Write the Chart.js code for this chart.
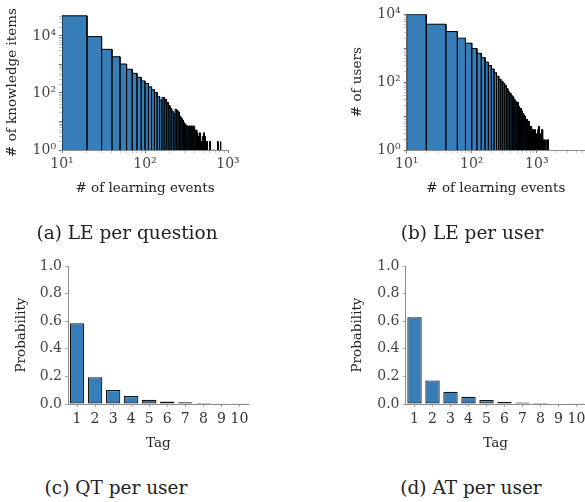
<!DOCTYPE html>
<html><head><meta charset="utf-8">
<script src="https://cdn.jsdelivr.net/npm/chart.js@4.4.0/dist/chart.umd.min.js"></script>
<style>
html,body{margin:0;padding:0;background:#fff;width:585px;height:502px;overflow:hidden;position:relative;}
canvas{position:absolute;}
.cap{position:absolute;font-family:"DejaVu Serif";font-size:18.5px;color:#222;white-space:nowrap;transform:translate(-50%,-50%);line-height:1;}
</style></head><body>
<canvas id="ca"></canvas>
<canvas id="cb"></canvas>
<canvas id="cc"></canvas>
<canvas id="cd"></canvas>
<div class="cap" style="left:127px;top:233px">(a) LE per question</div>
<div class="cap" style="left:472px;top:233px">(b) LE per user</div>
<div class="cap" style="left:116px;top:488px">(c) QT per user</div>
<div class="cap" style="left:471px;top:488px">(d) AT per user</div>
<script>
// ---------------- data ----------------
// (a) learning events per question: histogram, bins of width 10 starting at 10
const LEQ_BIN_START = 10;
const LEQ_BIN_WIDTH = 10;
const leQuestionCounts = [
  51000, 9500, 3400, 1870, 1040, 680, 490, 355, 265, 215,
  165, 130, 105, 75, 56, 70, 60, 47, 36, 28,
  22, 19, 27, 24, 21, 15, 13, 11, 9, 8,
  7, 7, 6, 7, 6, 7, 6, 7, 5, 5,
  5, 4, 3, 3, 4, 3, 2, 2, 3, 4,
  4, 3, 2, 2, 2, 1, 1, 0, 1, 2,
  1, 0, 1, 0, 1, 0, 1, 0, 1, 0,
  0, 1, 0, 1, 2, 0, 1, 0, 1, 0,
  2, 0, 1, 0
];
// (b) learning events per user: histogram, bins of width 20 starting at 0
const LEU_BIN_START = 0;
const LEU_BIN_WIDTH = 20;
const leUserCounts = [
  9800, 5100, 3100, 1980, 1410, 980, 710, 530, 390, 310,
  245, 190, 150, 122, 106, 92, 80, 64, 52, 47,
  40, 37, 31, 27, 26, 25, 19, 16, 17, 14,
  12, 11, 10, 9, 8, 8, 7, 7, 6, 5,
  5, 5, 4, 4, 3, 3, 4, 3, 3, 2,
  3, 3, 4, 5, 5, 3, 2, 3, 3, 2,
  4, 4, 2, 2, 1, 2, 2, 0, 1, 0,
  1, 2, 1, 2, 2, 1, 0, 1
];
// (c), (d) tag distributions
const tagLabels = ['1','2','3','4','5','6','7','8','9','10'];
const qtProb = [0.585, 0.193, 0.101, 0.058, 0.031, 0.019, 0.012, 0.007, 0.005, 0.002];
const atProb = [0.629, 0.171, 0.089, 0.053, 0.029, 0.017, 0.010, 0.007, 0.004, 0.002];
// axis ranges
const leqX = [10, 1000], leqY = [1, 54500];
const leuX = [10, 5500], leuY = [1, 10000];
const probTicks = [0, 0.2, 0.4, 0.6, 0.8, 1.0];
const logLabelExpsA = {x:[1,2,3], y:[0,2,4]};
const logLabelExpsB = {x:[1,2,3], y:[0,2,4]};

// ---------------- helpers ----------------
const FONT = 'DejaVu Serif';
const TICK_FONT = {family: FONT, size: 14};
const TITLE_SIZE = 13.5, TITLE_LH = 1.2;
const TITLE_FONT = {family: FONT, size: TITLE_SIZE, lineHeight: TITLE_LH};
const LH = TITLE_SIZE * TITLE_LH;
const SPINE = '#8c8c8c';
const BLUE = '#377eb8';
const SUP = {'0':'\u2070','1':'\u00b9','2':'\u00b2','3':'\u00b3','4':'\u2074'};

function isPow10(v){ const e = Math.round(Math.log10(v)); return Math.abs(v - Math.pow(10, e)) < 1e-6 * v; }
function logTicks(min, max){
  const t = [];
  for (let e = Math.floor(Math.log10(min)); e <= Math.ceil(Math.log10(max)); e++)
    for (let m = 1; m < 10; m++) {
      const v = m * Math.pow(10, e);
      if (v >= min * 0.9999 && v <= max * 1.0001) t.push({value: v});
    }
  return t;
}
function histPoints(counts, start, width, xmin){
  const pts = [];
  counts.forEach((c, i) => {
    const l = Math.max(start + i * width, xmin), r = start + (i + 1) * width;
    if (c < 1) { pts.push({x: l, y: null}); return; }
    pts.push({x: l, y: 1}, {x: l, y: c}, {x: r, y: c}, {x: r, y: 1});
  });
  return pts;
}
function frame(id, g){
  const cv = document.getElementById(id);
  cv.width = g.cw; cv.height = g.ch;
  cv.style.left = g.cx + 'px'; cv.style.top = g.cy + 'px';
  cv.style.width = g.cw + 'px'; cv.style.height = g.ch + 'px';
  return {
    cv,
    padding: {left: 0, top: g.t - g.cy, right: g.cx + g.cw - g.r, bottom: 0},
    yFit: s => { s.width = g.l - g.cx; },
    xFit: s => { s.height = g.cy + g.ch - g.b; },
    yTitlePad: {top: g.yTitleX - g.cx - LH / 2, bottom: 0},
    xTitlePad: {top: 0, bottom: g.cy + g.ch - g.xTitleY - LH / 2}
  };
}
function logScale(range, exps, title, titlePad, fit){
  return {
    type: 'logarithmic', min: range[0], max: range[1],
    afterBuildTicks: s => { s.ticks = logTicks(range[0], range[1]); },
    ticks: {autoSkip: false, maxRotation: 0, padding: 3, color: '#444', font: TICK_FONT,
      callback: v => { if (!isPow10(v)) return ''; const e = Math.round(Math.log10(v)); return exps.includes(e) ? '10' + SUP[e] : ''; }},
    grid: {drawOnChartArea: false, drawTicks: true, tickLength: 3,
      tickColor: c => (c.tick && isPow10(c.tick.value)) ? '#777' : '#c4c4c4'},
    border: {display: true, color: SPINE, width: 1},
    title: {display: true, text: title, font: TITLE_FONT, color: '#222', padding: titlePad},
    afterFit: fit
  };
}
function histChart(id, g, counts, start, width, xr, yr, exps, ytitle){
  const f = frame(id, g);
  return new Chart(f.cv, {
    type: 'line',
    data: {datasets: [{data: histPoints(counts, start, width, xr[0]), borderColor: '#000', borderWidth: 1,
      backgroundColor: BLUE, fill: 'start', pointRadius: 0, tension: 0, spanGaps: false}]},
    options: {responsive: false, animation: false, layout: {padding: f.padding},
      plugins: {legend: {display: false}, tooltip: {enabled: false}},
      scales: {
        x: logScale(xr, exps.x, '# of learning events', f.xTitlePad, f.xFit),
        y: logScale(yr, exps.y, ytitle, f.yTitlePad, f.yFit)
      }}
  });
}
function barChart(id, g, values){
  const f = frame(id, g);
  return new Chart(f.cv, {
    type: 'bar',
    data: {labels: tagLabels, datasets: [{data: values, backgroundColor: BLUE, borderColor: '#151515',
      borderWidth: 1.2, borderSkipped: false, barPercentage: 0.8, categoryPercentage: 1.0}]},
    options: {responsive: false, animation: false, layout: {padding: f.padding},
      plugins: {legend: {display: false}, tooltip: {enabled: false}},
      scales: {
        x: {type: 'category', offset: true,
          grid: {drawOnChartArea: false, drawTicks: true, tickLength: 3, tickColor: '#aaa', offset: false},
          border: {display: true, color: SPINE, width: 1},
          ticks: {autoSkip: false, maxRotation: 0, padding: 4, color: '#333', font: TICK_FONT},
          title: {display: true, text: 'Tag', font: TITLE_FONT, color: '#222', padding: f.xTitlePad},
          afterFit: f.xFit},
        y: {min: 0, max: 1,
          afterBuildTicks: s => { s.ticks = probTicks.map(v => ({value: v})); },
          grid: {drawOnChartArea: false, drawTicks: true, tickLength: 3, tickColor: '#aaa'},
          border: {display: true, color: SPINE, width: 1},
          ticks: {padding: 3, color: '#444', font: TICK_FONT, callback: v => Number(v).toFixed(1)},
          title: {display: true, text: 'Probability', font: TITLE_FONT, color: '#222', padding: f.yTitlePad},
          afterFit: f.yFit}
      }}
  });
}

histChart('ca', {cx:0, cy:0, cw:292, ch:205, l:62, r:228, t:15, b:150, yTitleX:12.5, xTitleY:188},
  leQuestionCounts, LEQ_BIN_START, LEQ_BIN_WIDTH, leqX, leqY, logLabelExpsA, '# of knowledge items');
histChart('cb', {cx:300, cy:0, cw:300, ch:205, l:406.7, r:585, t:14.3, b:150, yTitleX:357.5, xTitleY:188},
  leUserCounts, LEU_BIN_START, LEU_BIN_WIDTH, leuX, leuY, logLabelExpsB, '# of users');
barChart('cc', {cx:0, cy:240, cw:292, ch:215, l:68, r:248.5, t:266, b:404, yTitleX:21, xTitleY:443}, qtProb);
barChart('cd', {cx:300, cy:240, cw:300, ch:215, l:405.5, r:585.5, t:266, b:404, yTitleX:357.5, xTitleY:443}, atProb);
</script>
</body></html>
